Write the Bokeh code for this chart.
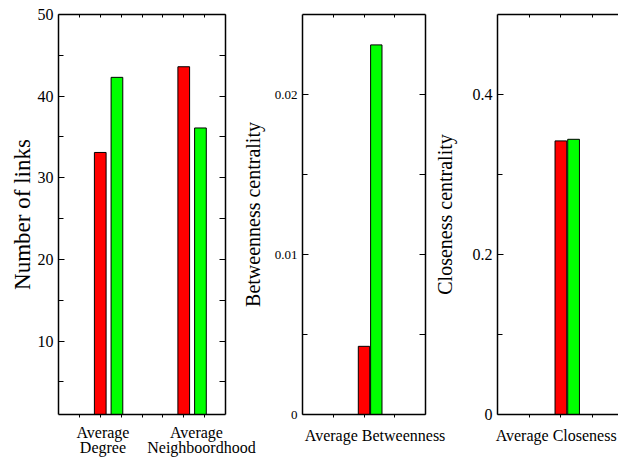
from bokeh.plotting import figure
from bokeh.models import Range1d, LinearAxis, FixedTicker
from bokeh.layouts import row
from bokeh.embed import file_html
from bokeh.resources import INLINE

FONT = "Liberation Serif"

# ---------------- data ----------------
deg_line1 = ["Average", "Average"]
deg_line2 = ["Degree", "Neighboordhood"]
deg_red = [33.1, 43.6]
deg_green = [42.3, 36.1]
deg_yticks = [10, 20, 30, 40, 50]
deg_yminor = [5, 15, 25, 35, 45]

btw_label = ["Average Betweenness"]
btw_red = [0.00426]
btw_green = [0.0231]
btw_yticks = [0, 0.01, 0.02]
btw_yminor = [0.005, 0.015]

clo_label = ["Average Closeness"]
clo_red = [0.342]
clo_green = [0.344]
clo_yticks = [0, 0.2, 0.4]
clo_yminor = [0.1, 0.3]

RED = "#ff0000"
GREEN = "#00ff00"
H = 459
TOP = 14
FRAME_H = 400


def base_fig(width, bl, br, xr, yr):
    p = figure(width=width, height=H, x_range=Range1d(*xr), y_range=Range1d(*yr),
               x_axis_type=None, y_axis_type=None, output_backend="svg",
               toolbar_location=None, min_border_left=bl, min_border_right=br,
               min_border_top=TOP, min_border_bottom=H - TOP - FRAME_H)
    p.outline_line_color = None
    p.background_fill_color = None
    p.border_fill_color = None
    return p


def style_axis(ax):
    ax.axis_line_color = "black"
    ax.axis_line_width = 1.5
    ax.major_tick_line_color = "black"
    ax.minor_tick_line_color = "black"
    ax.major_tick_line_width = 1
    ax.minor_tick_line_width = 1
    ax.major_tick_in = 0
    ax.major_tick_out = 0
    ax.minor_tick_in = 0
    ax.minor_tick_out = 0
    ax.major_label_text_font = FONT
    ax.major_label_text_color = "black"
    ax.axis_label_text_font = FONT
    ax.axis_label_text_color = "black"
    ax.axis_label_text_font_style = "normal"


def add_y_axes(p, ticks, minor, label, label_size, tick_size, overrides, standoff, right=True):
    la = LinearAxis(ticker=FixedTicker(ticks=ticks, minor_ticks=minor),
                    major_label_overrides=overrides, axis_label=label)
    style_axis(la)
    la.major_tick_in = 6
    la.minor_tick_in = 5
    la.major_label_text_font_size = tick_size
    la.major_label_standoff = 5
    la.axis_label_text_font_size = label_size
    la.axis_label_standoff = standoff
    p.add_layout(la, "left")
    if right:
        ra = LinearAxis(ticker=FixedTicker(ticks=[], minor_ticks=sorted(ticks + minor)))
        style_axis(ra)
        ra.minor_tick_in = 6
        p.add_layout(ra, "right")


def add_x_axes(p, minor, label_pos, labels, standoff):
    ba = LinearAxis(ticker=FixedTicker(ticks=label_pos, minor_ticks=minor),
                    major_label_overrides=dict(zip(label_pos, labels)))
    style_axis(ba)
    ba.minor_tick_out = 3
    ba.major_label_text_font_size = "16px"
    ba.major_label_standoff = standoff
    p.add_layout(ba, "below")
    ta = LinearAxis(ticker=FixedTicker(ticks=[], minor_ticks=minor))
    style_axis(ta)
    ta.minor_tick_in = 3
    p.add_layout(ta, "above")


def add_second_line(p, label_pos, labels, standoff):
    ax = LinearAxis(ticker=FixedTicker(ticks=label_pos, minor_ticks=[]),
                    major_label_overrides=dict(zip(label_pos, labels)))
    style_axis(ax)
    ax.axis_line_color = None
    ax.major_label_text_font_size = "16px"
    ax.major_label_standoff = standoff
    p.add_layout(ax, "below")


def bars(p, xs, red, green, off, w):
    p.vbar(x=xs, top=red, bottom=0, width=w, fill_color=RED, line_color="black", line_width=1)
    p.vbar(x=[x + off for x in xs], top=green, bottom=0, width=w,
           fill_color=GREEN, line_color="black", line_width=1)


# ---------------- panel 1 ----------------
p1 = base_fig(270, 58, 45, (0, 8), (1, 50))
bars(p1, [2, 6], deg_red, deg_green, 0.8, 0.56)
add_y_axes(p1, deg_yticks, deg_yminor, "Number of links", "23px", "16px", {}, 0)
add_x_axes(p1, [1, 2, 3, 4, 5, 6, 7], [2.13, 6.61], deg_line1, 6)
add_second_line(p1, [2.13, 6.85], deg_line2, -5)

# ---------------- panel 2 ----------------
p2 = base_fig(216, 66, 27, (0, 4), (0, 0.025))
bars(p2, [2], btw_red, btw_green, 0.4, 0.37)
add_y_axes(p2, btw_yticks, btw_yminor, "Betweenness centrality", "20px", "13px", {0: "0"}, 8)
add_x_axes(p2, [1, 2, 3], [2.36], btw_label, 9)
p2.margin = (0, 0, 0, -34)

# ---------------- panel 3 ----------------
p3 = base_fig(188, 67, 0, (0, 121 / 31.7), (0, 0.5))
bars(p3, [2], clo_red, clo_green, 0.4, 0.37)
add_y_axes(p3, clo_yticks, clo_yminor, "Closeness centrality", "20px", "16px", {0: "0"}, 14, right=False)
add_x_axes(p3, [1, 2, 3], [1.85], clo_label, 9)
p3.margin = (0, 0, 0, -22)

layout = row(p1, p2, p3, spacing=0)
open("out.html", "w").write(file_html(layout, INLINE))
